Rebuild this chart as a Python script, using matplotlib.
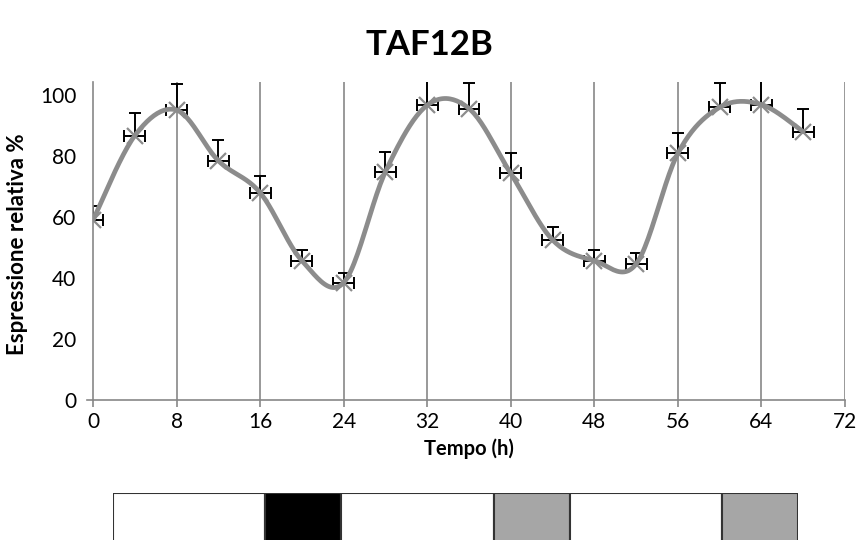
import numpy as np
import matplotlib.pyplot as plt

plt.rcParams['font.family'] = ['Lato', 'DejaVu Sans']

# dati
tempo = [0, 4, 8, 12, 16, 20, 24, 28, 32, 36, 40, 44, 48, 52, 56, 60, 64, 68]
espressione = [59, 86.7, 95.1, 78.5, 68, 45.7, 38.5, 74.9, 96.7, 95.6,
               74.3, 52.5, 45.7, 44.6, 80.9, 96, 96.9, 88]
err_sup = [4.5, 7.5, 8.4, 6.7, 5.5, 3.5, 3, 6.5, 9, 8.5,
           6.6, 4.3, 3.5, 3.5, 6.7, 8, 9, 7.3]
err_tempo = 1.0
xticks = [0, 8, 16, 24, 32, 40, 48, 56, 64, 72]
yticks = [0, 20, 40, 60, 80, 100]

# barra luce/buio sotto il grafico
fasi = [2, 1, 2, 1, 2, 1]
colori_fasi = ['white', 'black', 'white', '#a6a6a6', 'white', '#a6a6a6']

GRIGIO = '#8c8c8c'
ASSE = '#878787'


def smooth(x, y, n=25):
    # linea smussata tipo Excel (bezier con tangenti catmull-rom)
    P = np.column_stack([x, y]).astype(float)
    Pe = np.vstack([P[0], P, P[-1]])
    t = np.linspace(0, 1, n)[:, None]
    pezzi = []
    for i in range(len(P) - 1):
        p0, p1, p2, p3 = Pe[i], Pe[i + 1], Pe[i + 2], Pe[i + 3]
        c1 = p1 + (p2 - p0) / 6
        c2 = p2 - (p3 - p1) / 6
        pezzi.append((1 - t) ** 3 * p1 + 3 * (1 - t) ** 2 * t * c1
                     + 3 * (1 - t) * t ** 2 * c2 + t ** 3 * p2)
    return np.vstack(pezzi)


fig = plt.figure(figsize=(8.58, 5.40), dpi=100)
ax = fig.add_axes([93 / 858, 1 - 400 / 540, 752 / 858, 318 / 540])

for xv in xticks[1:]:
    ax.axvline(xv, color=ASSE, lw=1.2, zorder=1)

ax.errorbar(tempo, espressione, yerr=[np.zeros(len(err_sup)), err_sup],
            xerr=err_tempo, fmt='none', ecolor='black', elinewidth=1.4,
            capsize=4.5, capthick=1.4, zorder=2)

curva = smooth(tempo, espressione)
ax.plot(curva[:, 0], curva[:, 1], color=GRIGIO, lw=3.4, zorder=3,
        solid_capstyle='round')
ax.plot(tempo, espressione, ls='none', marker='x', ms=11, mew=1.6,
        color=GRIGIO, zorder=4)

ax.set_xlim(0, 72)
ax.set_ylim(0, 104.3)
ax.set_xticks(xticks)
ax.set_yticks(yticks)
ax.tick_params(axis='x', length=5, width=1.2, color=ASSE, labelsize=15, pad=4)
ax.tick_params(axis='y', length=0, labelsize=15, pad=12)
for s in ['top', 'right']:
    ax.spines[s].set_visible(False)
for s in ['left', 'bottom']:
    ax.spines[s].set_color(ASSE)
    ax.spines[s].set_linewidth(1.2)
ax.plot([-0.6, 0], [0, 0], color=ASSE, lw=1.2, clip_on=False)

fig.text(469 / 858, 1 - 449 / 540, 'Tempo (h)', ha='center', va='center',
         fontsize=14.5, fontweight='bold')
fig.text(18 / 858, 1 - 244 / 540, 'Espressione relativa %', ha='center',
         va='center', rotation=90, fontsize=16, fontweight='bold')
fig.text(0.5, 1 - 45 / 540, 'TAF12B', ha='center', va='center',
         fontsize=25, fontweight='bold')

# barra fotoperiodo
axb = fig.add_axes([113 / 858, 1 - 580 / 540, 685 / 858, 87 / 540])
inizio = np.concatenate([[0], np.cumsum(fasi)[:-1]])
axb.barh(0, fasi, left=inizio, height=1, color=colori_fasi,
         edgecolor='#333333', linewidth=1.5)
axb.set_xlim(0, sum(fasi))
axb.set_ylim(-0.5, 0.5)
axb.axis('off')

fig.savefig('out.png', dpi=100)
